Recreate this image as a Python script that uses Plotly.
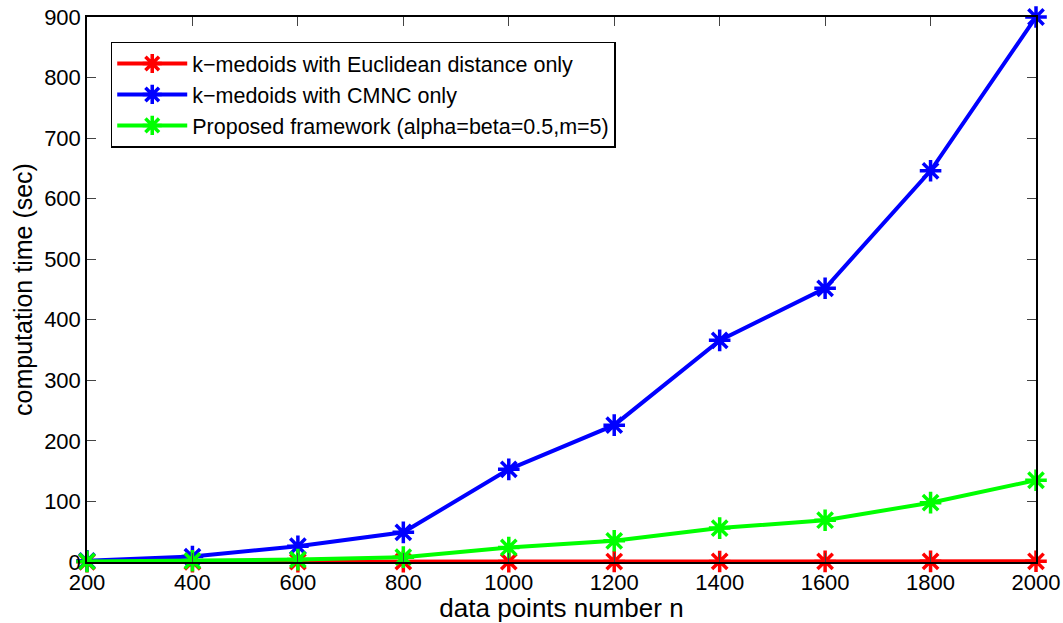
import plotly.graph_objects as go

n_points = [200, 400, 600, 800, 1000, 1200, 1400, 1600, 1800, 2000]
euclid_time = [0.3, 0.4, 0.5, 0.6, 0.7, 0.8, 0.9, 1.0, 1.1, 1.2]
cmnc_time = [2, 9, 26, 49, 153, 226, 366, 452, 646, 900]
proposed_time = [1, 2, 4, 8, 24, 35, 56, 69, 98, 135]

series = [
    ("k\u2212medoids with Euclidean distance only", euclid_time, "#ff0000"),
    ("k\u2212medoids with CMNC only", cmnc_time, "#0000ff"),
    ("Proposed framework (alpha=beta=0.5,m=5)", proposed_time, "#00ff00"),
]

fig = go.Figure()
for name, ys, col in series:
    fig.add_trace(go.Scatter(
        x=n_points, y=ys, name=name, mode="lines+markers",
        line=dict(color=col, width=4),
        marker=dict(symbol="asterisk-open", size=18, color=col,
                    line=dict(color=col, width=3.5)),
        cliponaxis=False,
    ))

font_family = "Liberation Sans, Arial, sans-serif"
fig.update_layout(
    width=1063, height=623,
    margin=dict(l=87, r=27, t=17, b=61),
    paper_bgcolor="white", plot_bgcolor="white",
    font=dict(family=font_family, size=22, color="black"),
    showlegend=True,
    legend=dict(
        x=0.025, y=0.955, xanchor="left", yanchor="top",
        bordercolor="black", borderwidth=1.5, bgcolor="white",
        font=dict(size=21.5, family=font_family), itemwidth=70,
        tracegroupgap=0,
    ),
)
fig.update_xaxes(
    range=[200, 2000], tickvals=n_points, ticks="inside", ticklen=9,
    showline=True, linecolor="black", linewidth=1.5, mirror="ticks",
    showgrid=False, zeroline=False, tickfont=dict(size=22), automargin=False,
    title=dict(text="data points number n", font=dict(size=26), standoff=2),
)
fig.update_yaxes(
    range=[0, 900], dtick=100, ticks="inside", ticklen=9,
    showline=True, linecolor="black", linewidth=1.5, mirror="ticks",
    showgrid=False, zeroline=False, tickfont=dict(size=22), automargin=False,
    title=dict(text="computation time (sec)", font=dict(size=25), standoff=4),
)
fig.write_html("out.html")
